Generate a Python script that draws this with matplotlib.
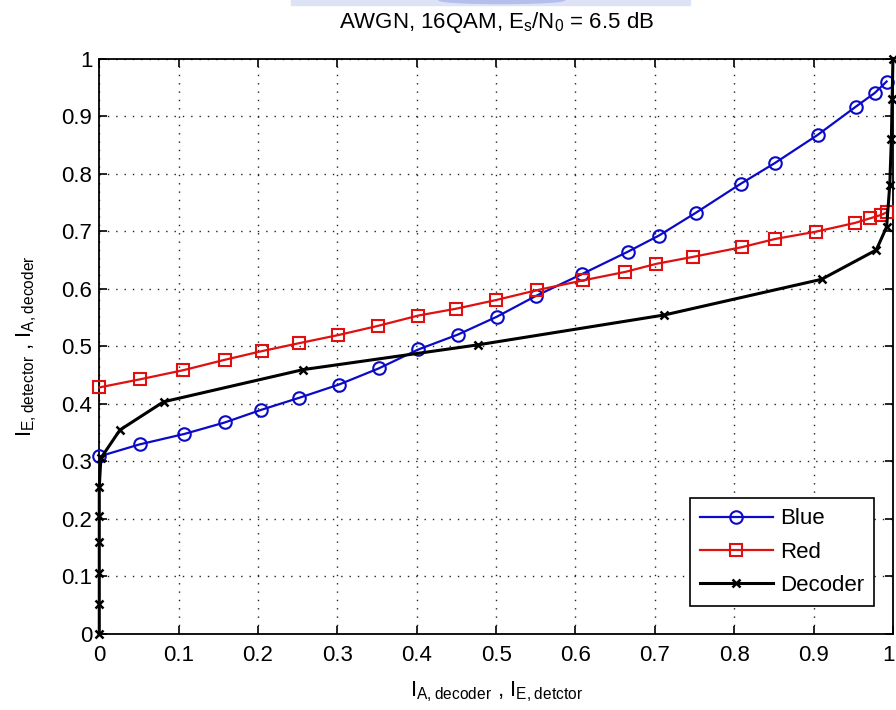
import matplotlib
matplotlib.use("Agg")
import matplotlib.pyplot as plt
from matplotlib.patches import Rectangle, Ellipse
from matplotlib.transforms import ScaledTranslation

plt.rcParams['font.family'] = ['Liberation Sans', 'DejaVu Sans']
plt.rcParams['mathtext.default'] = 'regular'

# EXIT curves: detector (blue/red) and decoder (black)
blue_x = [0.0, 0.051, 0.107, 0.158, 0.204, 0.252, 0.302, 0.352, 0.402, 0.452, 0.501,
          0.550, 0.608, 0.666, 0.705, 0.752, 0.808, 0.851, 0.905, 0.953, 0.977, 0.992]
blue_y = [0.308, 0.329, 0.347, 0.367, 0.389, 0.410, 0.433, 0.461, 0.494, 0.520, 0.551,
          0.587, 0.625, 0.664, 0.692, 0.732, 0.782, 0.818, 0.867, 0.916, 0.940, 0.960]

red_x = [0.0, 0.051, 0.106, 0.158, 0.2045, 0.252, 0.301, 0.351, 0.402, 0.450, 0.500, 0.551,
         0.609, 0.663, 0.702, 0.748, 0.810, 0.851, 0.9035, 0.952, 0.971, 0.985, 0.993]
red_y = [0.428, 0.442, 0.458, 0.476, 0.491, 0.505, 0.519, 0.535, 0.553, 0.565, 0.580, 0.597,
         0.614, 0.629, 0.643, 0.655, 0.672, 0.686, 0.699, 0.714, 0.722, 0.728, 0.733]

decoder_x = [0.0, 0.0, 0.0, 0.0, 0.0, 0.0, 0.002, 0.026, 0.081, 0.257, 0.477, 0.712,
             0.910, 0.979, 0.992, 0.996, 0.998, 0.999, 1.0]
decoder_y = [0.0, 0.052, 0.105, 0.159, 0.205, 0.255, 0.305, 0.354, 0.403, 0.459, 0.502, 0.554,
             0.616, 0.667, 0.707, 0.780, 0.860, 0.930, 1.0]

ticks = [0, 0.1, 0.2, 0.3, 0.4, 0.5, 0.6, 0.7, 0.8, 0.9, 1]
tick_labels = ['0', '0.1', '0.2', '0.3', '0.4', '0.5', '0.6', '0.7', '0.8', '0.9', '1']

fs = 16

fig = plt.figure(figsize=(8.96, 7.10), dpi=100)
ax = fig.add_axes([0.1108, 0.1077, 0.8858, 0.8099])

ax.plot(blue_x, blue_y, color='#0a0ac8', lw=1.6, marker='o', ms=9, mfc='none', mew=1.5,
        label='Blue', clip_on=False, zorder=3)
ax.plot(red_x, red_y, color='#e01010', lw=1.6, marker='s', ms=9, mfc='none', mew=1.5,
        label='Red', clip_on=False, zorder=3)
ax.plot(decoder_x, decoder_y, color='black', lw=2.2, marker='x', ms=6, mew=1.8,
        label='Decoder', clip_on=False, zorder=4)

ax.set_xlim(0, 1)
ax.set_ylim(0, 1)
ax.set_xticks(ticks)
ax.set_xticklabels(tick_labels)
ax.set_yticks(ticks)
ax.set_yticklabels(tick_labels)
ax.tick_params(direction='in', top=True, right=True, length=6, width=1.2, labelsize=fs)
ax.tick_params(axis='x', pad=8)
ax.tick_params(axis='y', pad=5)
for s in ax.spines.values():
    s.set_linewidth(1.3)

# the last x label sits on the right edge of the figure; pull it in a little
last = ax.get_xticklabels()[-1]
last.set_transform(last.get_transform() + ScaledTranslation(-4 / 100, 0, fig.dpi_scale_trans))

ax.grid(True, color='#222222', linestyle=(0, (1, 5)), linewidth=1.0)

ax.set_title(r'AWGN, 16QAM, E$_s$/N$_0$ = 6.5 dB', fontsize=fs, pad=22)
ax.set_xlabel(r'I$_{A,decoder}$ , I$_{E,detctor}$', fontsize=fs, labelpad=10)
ax.set_ylabel(r'I$_{E,detector}$ , I$_{A,decoder}$', fontsize=fs, labelpad=16)

leg = ax.legend(loc='lower right', bbox_to_anchor=(0.976, 0.048), borderaxespad=0,
                fontsize=fs, fancybox=False, framealpha=1, edgecolor='black',
                handlelength=3.3, handletextpad=0.3, labelspacing=0.55,
                borderpad=0.45)
leg.get_frame().set_linewidth(1.2)

# faint blue banner strip along the top edge
fig.patches.append(Rectangle((0.325, 0.993), 0.445, 0.007, transform=fig.transFigure,
                             color='#dde2f7', zorder=0))
fig.patches.append(Ellipse((0.56, 1.0), 0.14, 0.010, transform=fig.transFigure,
                           color='#b4bfec', zorder=0))

fig.savefig('out.png', dpi=100)
